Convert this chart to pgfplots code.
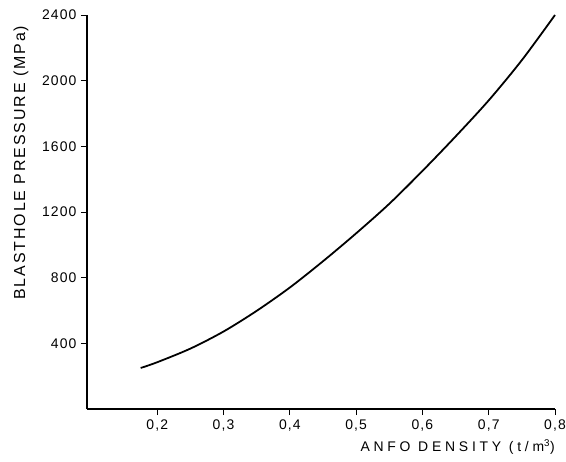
\documentclass[border=0pt]{standalone}
\usepackage{fontspec}
\setmainfont{Liberation Sans}
\usepackage{pgfplots}
\pgfplotsset{compat=1.18}

% density (t/m^3) vs blasthole pressure (MPa)
\pgfplotstableread{
d     p
0.175 250
0.20  285
0.25  368
0.30  472
0.35  598
0.40  740
0.45  900
0.50  1070
0.55  1250
0.60  1450
0.65  1660
0.70  1880
0.75  2125
0.80  2400
}\anfo

\begin{document}
\begin{tikzpicture}
\path[use as bounding box] (-87bp,-53bp) rectangle (479bp,409bp);
\begin{axis}[
  scale only axis, width=468bp, height=394bp,
  xmin=0.094, xmax=0.8, ymin=0, ymax=2400,
  axis lines=left, axis line style={-, line width=1.2pt},
  xtick={0.2,0.3,...,0.8}, ytick={400,800,...,2400},
  tick align=outside, major tick length=6bp,
  tick style={line width=0.9pt, black},
  /pgf/number format/.cd, use comma, fixed, assume math mode=true, 1000 sep={},
  /pgfplots/.cd,
  tick label style={font=\fontsize{14}{16}\selectfont\addfontfeature{LetterSpace=8}},
  xticklabel style={yshift=-1bp},
  yticklabel style={xshift=-1bp},
  xlabel={\addfontfeature{LetterSpace=27}ANFO DENSITY (t/m\textsuperscript{3})},
  ylabel={\addfontfeature{LetterSpace=12}BLASTHOLE PRESSURE (MPa)},
  xlabel style={at={(axis description cs:1,-0.097)}, anchor=east,
    font=\fontsize{14}{16}\selectfont, inner sep=0pt},
  ylabel style={at={(axis description cs:-0.141,0.625)}, anchor=center,
    rotate=0, font=\fontsize{16}{18}\selectfont, inner sep=0pt},
  clip=false,
]
\addplot[black, line width=1.8pt, smooth] table[x=d, y=p] {\anfo};
\end{axis}
\end{tikzpicture}
\end{document}
